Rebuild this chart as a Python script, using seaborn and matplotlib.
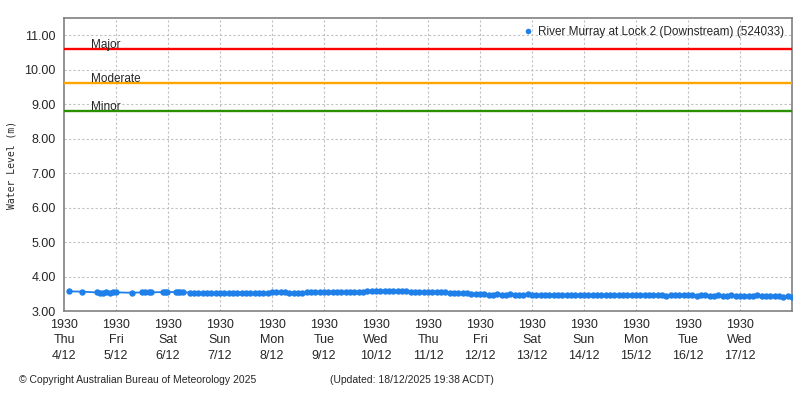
import pandas as pd
import matplotlib.pyplot as plt
import matplotlib.transforms as mtransforms
from matplotlib.lines import Line2D
import seaborn as sns

# Station readings, River Murray at Lock 2 (Downstream)
start = pd.Timestamp('2025-12-04 19:30')
end = pd.Timestamp('2025-12-18 19:30')

# early readings come in bursts (hours after start)
sparse_hours = [2.5, 8.5, 15, 16.5, 18, 19.5, 21, 22.5, 24, 31.5,
                36, 37.5, 39, 40, 45.5, 46.5, 47.5, 51.5, 52.5, 53.5, 55]
sparse_level = [3.57, 3.56, 3.54, 3.53, 3.53, 3.54, 3.53, 3.54, 3.54, 3.53,
                3.54, 3.54, 3.55, 3.54, 3.55, 3.55, 3.55, 3.55, 3.55, 3.54, 3.55]

# continuous record, one value every 2 hours from 58 h to 336 h
dense_hours = list(range(58, 337, 2))
dense_level = [
    3.53, 3.53, 3.52, 3.53, 3.53, 3.52, 3.53,                          # Sun 7/12
    3.53, 3.52, 3.53, 3.53, 3.52, 3.53, 3.53, 3.53, 3.52, 3.53, 3.53, 3.53,  # Sun-Mon
    3.54, 3.55, 3.54, 3.54, 3.53, 3.53, 3.52, 3.53, 3.54, 3.55, 3.55, 3.55,  # Mon-Tue
    3.55, 3.55, 3.56, 3.55, 3.55, 3.56, 3.55, 3.56, 3.56, 3.55, 3.57, 3.57,  # Tue-Wed
    3.58, 3.58, 3.57, 3.58, 3.57, 3.57, 3.57, 3.57, 3.56, 3.56, 3.56, 3.55,  # Wed-Thu
    3.55, 3.55, 3.54, 3.54, 3.54, 3.53, 3.53, 3.52, 3.51, 3.51, 3.50, 3.48,  # Thu-Fri
    3.48, 3.48, 3.47, 3.47, 3.48, 3.47, 3.47, 3.48, 3.47, 3.47, 3.47, 3.48,  # Fri-Sat
    3.47, 3.47, 3.46, 3.46, 3.46, 3.46, 3.47, 3.46, 3.46, 3.45, 3.45, 3.46,  # Sat-Sun
    3.46, 3.47, 3.47, 3.46, 3.45, 3.45, 3.45, 3.45, 3.46, 3.45, 3.45, 3.45,  # Sun-Mon
    3.45, 3.45, 3.46, 3.45, 3.45, 3.45, 3.45, 3.44, 3.45, 3.45, 3.45, 3.45,  # Mon-Tue
    3.45, 3.45, 3.44, 3.45, 3.45, 3.44, 3.44, 3.45, 3.44, 3.44, 3.45, 3.44,  # Tue-Wed
    3.44, 3.44, 3.44, 3.44, 3.45, 3.44, 3.44, 3.44, 3.43, 3.43, 3.42, 3.43,  # Wed-Thu
    3.42,
]

flood_names = ['Major', 'Moderate', 'Minor']
flood_levels = [10.6, 9.6, 8.8]
flood_colors = ['#ff0000', '#ffa500', '#2a9000']

station = 'River Murray at Lock 2 (Downstream) (524033)'
blue = '#1e80e8'

df = pd.DataFrame({
    'Hours': sparse_hours + dense_hours,
    'Level': sparse_level + dense_level,
})
df['Time'] = start + pd.to_timedelta(df['Hours'], unit='h')

sns.set_style('white')
plt.rcParams['font.family'] = ['Liberation Sans', 'DejaVu Sans']

fig, ax = plt.subplots(figsize=(8, 4), dpi=100)
fig.subplots_adjust(left=0.08, right=0.99, top=0.955, bottom=0.2225)

sns.lineplot(x='Time', y='Level', data=df, color=blue, marker='o',
             markersize=4.6, markeredgewidth=0, linewidth=1.3, ax=ax, zorder=5)

# flood class lines
trans = mtransforms.blended_transform_factory(ax.transAxes, ax.transData)
for name, level, col in zip(flood_names, flood_levels, flood_colors):
    ax.axhline(level, color=col, linewidth=1.7, zorder=3)
    ax.text(0.037, level + 0.12, name, transform=trans, fontsize=8.5,
            va='center', ha='left', zorder=4)

ax.set_xlim(start, end - pd.Timedelta(minutes=10))
ax.set_ylim(3, 11.5)

yticks = [3, 4, 5, 6, 7, 8, 9, 10, 11]
ax.set_yticks(yticks)
ax.set_yticklabels([f'{v:.2f}' for v in yticks], fontsize=9)

days = pd.date_range(start, periods=14, freq='D')
ax.set_xticks(days)
ax.set_xticklabels([f"{d:%H%M}\n{d:%a}\n{d.day}/{d.month}" for d in days],
                   fontsize=9, linespacing=1.35)
ax.set_xticks(pd.date_range(start, end, freq='6h'), minor=True)

ax.tick_params(axis='both', which='both', direction='out', color='#808080',
               length=4, width=1, pad=2)
ax.tick_params(axis='x', which='minor', length=3)

# dotted grid at the labelled days and whole metres only
ax.grid(False, which='both')
grid_kw = dict(color='#c0c0c0', linestyle=(0, (2, 2)), linewidth=0.8, zorder=1)
for d in days[1:]:
    ax.axvline(d, **grid_kw)
for v in yticks[1:]:
    ax.axhline(v, **grid_kw)

for sp in ax.spines.values():
    sp.set_color('#808080')
    sp.set_linewidth(1.2)

ax.set_xlabel('')
ax.set_ylabel('Water Level (m)', family='DejaVu Sans Mono', fontsize=7)
ax.yaxis.set_label_coords(-0.065, 0.5)

handle = Line2D([], [], linestyle='none', marker='o', markersize=4,
                color=blue, markeredgewidth=0)
ax.legend([handle], [station], loc='upper right', frameon=False,
          fontsize=8.5, handletextpad=0.3, borderaxespad=0.3,
          handlelength=1.0)

fig.text(0.024, 0.05, '\u00a9 Copyright Australian Bureau of Meteorology 2025',
         fontsize=7.5, va='center')
fig.text(0.412, 0.05, '(Updated: 18/12/2025 19:38 ACDT)', fontsize=7.5, va='center')

fig.savefig('out.png', dpi=100)
